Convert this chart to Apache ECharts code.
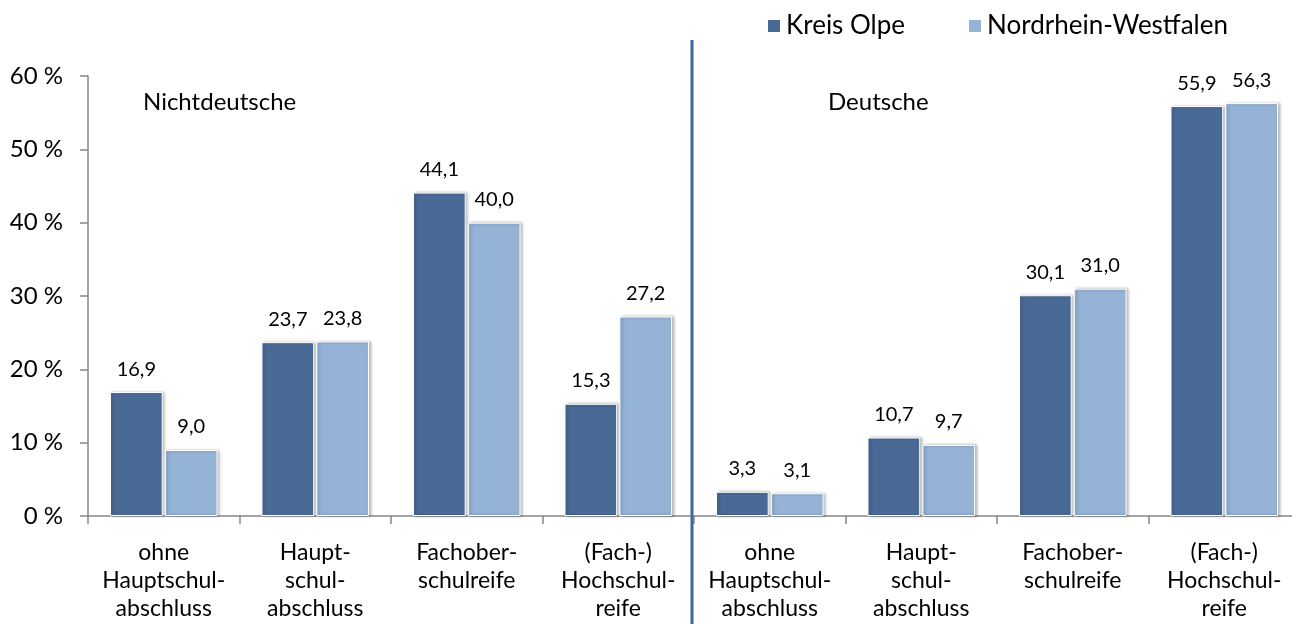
<!DOCTYPE html>
<html>
<head>
<meta charset="utf-8">
<script src="https://cdn.jsdelivr.net/npm/echarts@6/dist/echarts.min.js"></script>
<style>
  html, body { margin: 0; padding: 0; background: #fff; }
  #chart { width: 1292px; height: 624px; }
</style>
</head>
<body>
<div id="chart"></div>
<script>
// categories: first four Nichtdeutsche, last four Deutsche
const categories = [
    'ohne\nHauptschul-\nabschluss', 'Haupt-\nschul-\nabschluss', 'Fachober-\nschulreife', '(Fach-)\nHochschul-\nreife',
    'ohne\nHauptschul-\nabschluss', 'Haupt-\nschul-\nabschluss', 'Fachober-\nschulreife', '(Fach-)\nHochschul-\nreife'
];
const kreisOlpe = [16.9, 23.7, 44.1, 15.3, 3.3, 10.7, 30.1, 55.9];
const nrw = [9.0, 23.8, 40.0, 27.2, 3.1, 9.7, 31.0, 56.3];
const groupNames = ['Nichtdeutsche', 'Deutsche'];

const font = 'Lato';
const dark = '#4A6A96';
const light = '#95B3D7';

var dom = document.getElementById('chart');
var myChart = echarts.init(dom, null, { renderer: 'canvas' });

function fmt(p) {
    return p.value.toFixed(1).replace('.', ',');
}

const barStyle = (color) => ({
    color: color,
    borderColor: '#fff',
    borderWidth: 1,
    shadowColor: 'rgba(0,0,0,0.3)',
    shadowBlur: 3,
    shadowOffsetX: 2,
    shadowOffsetY: 0
});

const labelStyle = {
    show: true,
    position: 'top',
    distance: 13,
    formatter: fmt,
    fontFamily: font,
    fontSize: 20,
    color: '#000'
};

var option = {
    animation: false,
    textStyle: { fontFamily: font },
    // the axis runs a little past the right edge, as in the original
    grid: { left: 88, right: -8, top: 76, bottom: 108, containLabel: false, outerBoundsMode: 'none' },
    legend: {
        left: 761,
        top: 8,
        itemWidth: 14,
        itemHeight: 14,
        itemGap: 62,
        icon: 'rect',
        textStyle: { fontFamily: font, fontSize: 26, color: '#000' },
        data: ['Kreis Olpe', 'Nordrhein-Westfalen']
    },
    xAxis: {
        type: 'category',
        data: categories,
        axisLine: { lineStyle: { color: '#868686', width: 1.5 } },
        axisTick: { show: true, length: 8, lineStyle: { color: '#868686', width: 1.5 } },
        axisLabel: {
            interval: 0,
            margin: 23,
            fontFamily: font,
            fontSize: 23,
            lineHeight: 28,
            color: '#000'
        }
    },
    yAxis: {
        type: 'value',
        min: 0,
        max: 60,
        interval: 10,
        splitLine: { show: false },
        axisLine: { show: true, lineStyle: { color: '#868686', width: 1.5 } },
        axisTick: { show: true, length: 8, lineStyle: { color: '#868686', width: 1.5 } },
        axisLabel: {
            formatter: '{value} %',
            margin: 25,
            fontFamily: font,
            fontSize: 24,
            color: '#000'
        }
    },
    series: [
        {
            name: 'Kreis Olpe',
            type: 'bar',
            data: kreisOlpe,
            barGap: '4%',
            barCategoryGap: '29%',
            itemStyle: barStyle(dark),
            label: labelStyle
        },
        {
            name: 'Nordrhein-Westfalen',
            type: 'bar',
            data: nrw,
            itemStyle: barStyle(light),
            label: labelStyle
        }
    ],
    graphic: [
        {
            type: 'line',
            shape: { x1: 692, y1: 40, x2: 692, y2: 624 },
            style: { stroke: '#3E679D', lineWidth: 3 },
            z: 10
        },
        {
            type: 'text',
            left: 143,
            top: 90,
            style: { text: groupNames[0], font: '24px ' + font, fill: '#000' }
        },
        {
            type: 'text',
            left: 828,
            top: 90,
            style: { text: groupNames[1], font: '24px ' + font, fill: '#000' }
        }
    ]
};

myChart.setOption(option);
window.addEventListener('resize', myChart.resize);
</script>
</body>
</html>
